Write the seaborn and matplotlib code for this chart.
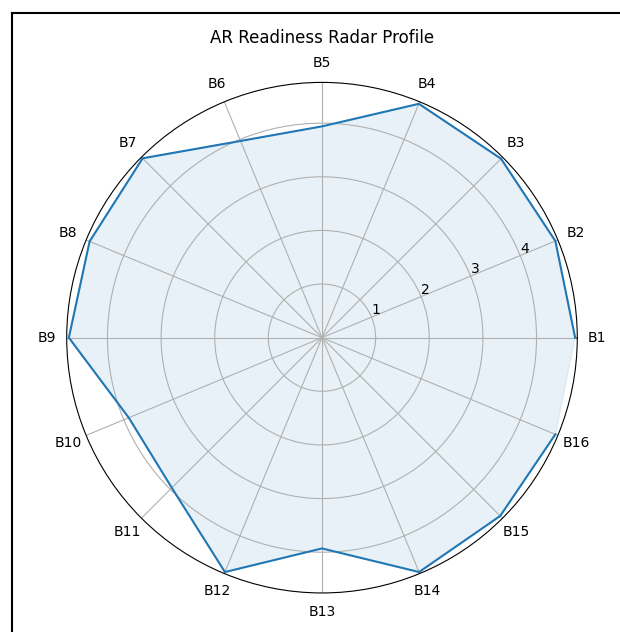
import numpy as np
import matplotlib
matplotlib.use("Agg")
import matplotlib.pyplot as plt
from matplotlib.lines import Line2D
import seaborn as sns

# categories and scores
labels = ["B1", "B2", "B3", "B4", "B5", "B6", "B7", "B8",
          "B9", "B10", "B11", "B12", "B13", "B14", "B15", "B16"]
scores = [4.72, 4.71, 4.72, 4.72, 3.94, 3.97, 4.73, 4.69,
          4.72, 3.90, 3.96, 4.73, 3.93, 4.73, 4.70, 4.71]
r_max = 4.76

angles = np.linspace(0, 2 * np.pi, len(labels), endpoint=False)
theta = np.append(angles, angles[0])
r = np.append(scores, scores[0])

fig = plt.figure(figsize=(6.2, 6.32), dpi=100)
ax = fig.add_axes([0.1076, 0.0617, 0.8235, 0.808], projection="polar")

sns.lineplot(x=theta, y=r, ax=ax, sort=False, color="tab:blue", linewidth=1.5)
ax.fill(theta, r, color="tab:blue", alpha=0.1)

ax.set_xticks(angles)
ax.set_xticklabels(labels)
ax.set_ylim(0, r_max)
ax.set_yticks([1, 2, 3, 4])
ax.set_xlabel("")
ax.set_ylabel("")
ax.grid(True)

fig.text(322 / 620, 1 - 38 / 632, "AR Readiness Radar Profile",
         ha="center", va="center", fontsize=12)

# partial frame visible in the reference (top and left edges)
fig.add_artist(Line2D([11.5 / 620, 11.5 / 620], [0, 1 - 13 / 632],
                      transform=fig.transFigure, color="black", linewidth=1.5))
fig.add_artist(Line2D([11.5 / 620, 1], [1 - 13 / 632, 1 - 13 / 632],
                      transform=fig.transFigure, color="black", linewidth=1.5))

fig.savefig("out.png", dpi=100)
